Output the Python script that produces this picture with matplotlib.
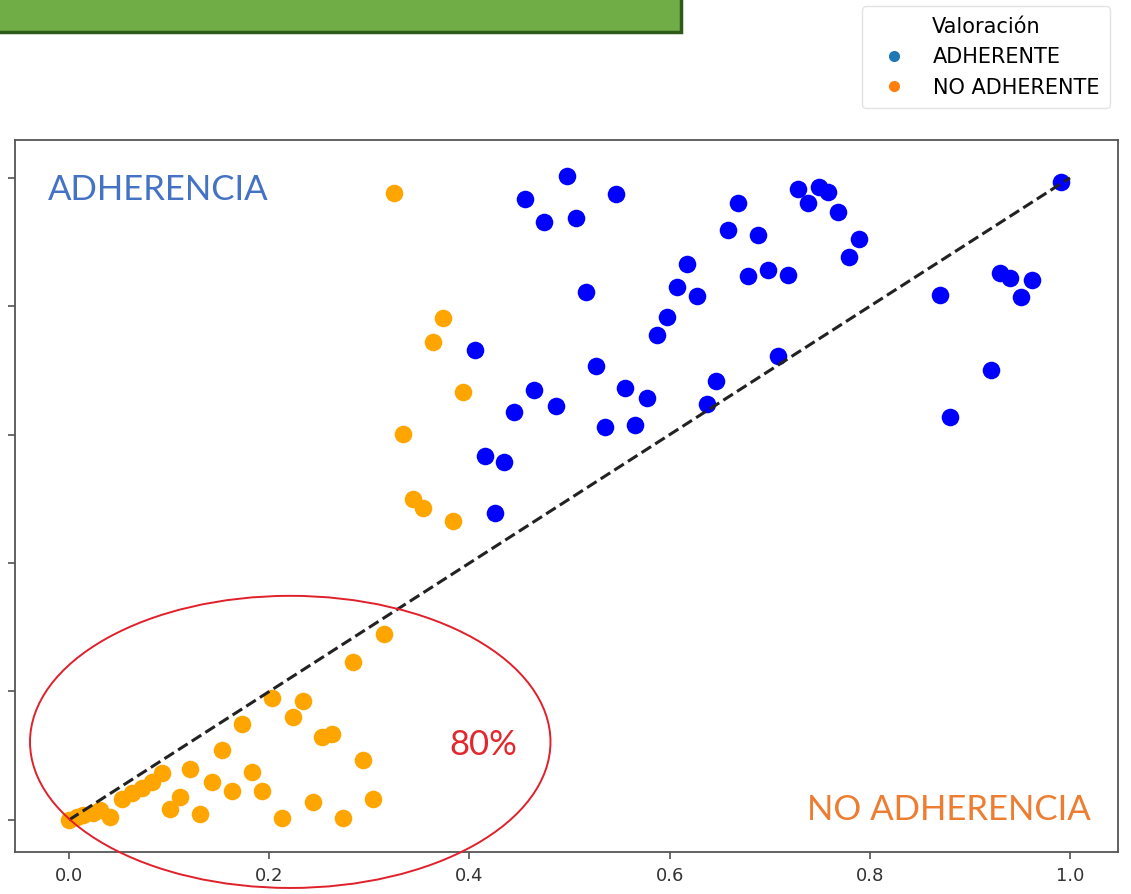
import matplotlib.pyplot as plt
from matplotlib.patches import Ellipse, Rectangle
from matplotlib.lines import Line2D

# Points
adh_x = [0.991, 0.456, 0.497, 0.546, 0.475, 0.506, 0.516, 0.617, 0.607, 0.627,
         0.597, 0.587, 0.406, 0.526, 0.465, 0.487, 0.445, 0.555, 0.577, 0.535,
         0.565, 0.646, 0.637, 0.416, 0.435, 0.426, 0.728, 0.738, 0.749, 0.758,
         0.768, 0.668, 0.658, 0.688, 0.789, 0.779, 0.678, 0.698, 0.718, 0.870,
         0.930, 0.940, 0.962, 0.951, 0.708, 0.921, 0.880]
adh_y = [0.994, 0.967, 1.003, 0.975, 0.931, 0.938, 0.822, 0.866, 0.830, 0.816,
         0.783, 0.755, 0.732, 0.707, 0.670, 0.645, 0.636, 0.673, 0.657, 0.612,
         0.615, 0.684, 0.648, 0.567, 0.558, 0.478, 0.983, 0.961, 0.986, 0.978,
         0.947, 0.961, 0.919, 0.911, 0.905, 0.877, 0.847, 0.857, 0.849, 0.818,
         0.852, 0.844, 0.841, 0.815, 0.723, 0.701, 0.628]

no_adh_x = [0.325, 0.374, 0.364, 0.394, 0.334, 0.344, 0.354, 0.384, 0.315, 0.284,
            0.203, 0.234, 0.224, 0.173, 0.253, 0.263, 0.153, 0.294, 0.121, 0.183,
            0.143, 0.163, 0.193, 0.111, 0.101, 0.131, 0.244, 0.304, 0.213, 0.274,
            0.041, 0.000, 0.008, 0.014, 0.024, 0.031, 0.053, 0.063, 0.073, 0.083,
            0.093]
no_adh_y = [0.977, 0.782, 0.745, 0.667, 0.601, 0.500, 0.486, 0.466, 0.290, 0.246,
            0.190, 0.185, 0.160, 0.150, 0.129, 0.134, 0.109, 0.093, 0.079, 0.075,
            0.059, 0.045, 0.045, 0.036, 0.017, 0.009, 0.028, 0.033, 0.003, 0.003,
            0.005, 0.000, 0.005, 0.008, 0.011, 0.016, 0.033, 0.042, 0.050, 0.059,
            0.073]

legend_labels = ['ADHERENTE', 'NO ADHERENTE']
ticks = [0.0, 0.2, 0.4, 0.6, 0.8, 1.0]

fig = plt.figure(figsize=(11.31, 8.94), dpi=100)
ax = fig.add_axes([15 / 1131, 1 - 852 / 894, 1103 / 1131, 712 / 894])

ax.scatter(adh_x, adh_y, s=160, color='blue', linewidths=0, zorder=3)
ax.scatter(no_adh_x, no_adh_y, s=160, color='orange', linewidths=0, zorder=3)
ax.plot([0, 1], [0, 1], color='#222222', linestyle='--', linewidth=2.2, zorder=4)

ax.set_xlim(-0.054, 1.048)
ax.set_ylim(-0.05, 1.059)
ax.set_xticks(ticks)
ax.set_xticklabels([f'{t:.1f}' for t in ticks], fontsize=13, color='#333333')
ax.set_yticks(ticks)
ax.set_yticklabels([])
ax.tick_params(length=5, width=1.1, color='#444444', pad=6)
for sp in ax.spines.values():
    sp.set_color('#555555')
    sp.set_linewidth(1.3)

# annotations added on top of the plot
ax.text(-0.021, 0.981, 'ADHERENCIA', fontsize=25, family='Lato',
        color='#4472C4', va='center', ha='left')
ax.text(0.879, 0.016, 'NO ADHERENCIA', fontsize=25, family='Lato',
        color='#ED7D31', va='center', ha='center')
ax.text(0.414, 0.117, '80%', fontsize=25, family='Lato',
        color='#E0282E', va='center', ha='center')
ax.add_patch(Ellipse((0.221, 0.1215), 0.52, 0.455, fill=False,
                     edgecolor='#E0202A', linewidth=1.4, clip_on=False, zorder=5))

# green banner at the top left (cut off in the screenshot)
fig.add_artist(Rectangle((-0.01, 1 - 32 / 894), 681 / 1131 + 0.01, 0.1,
                         facecolor='#70AD47', edgecolor='#2E5B1A', linewidth=2.5,
                         transform=fig.transFigure))

handles = [Line2D([], [], marker='o', linestyle='', markersize=7, color=c)
           for c in ['#1f77b4', '#ff7f0e']]
fig.legend(handles, legend_labels, title='Valoración', loc='lower right',
           bbox_to_anchor=(1110 / 1131, 1 - 108 / 894), bbox_transform=fig.transFigure,
           fontsize=15, title_fontsize=15, frameon=True, edgecolor='#dddddd',
           borderaxespad=0, handletextpad=0.9, labelspacing=0.5, borderpad=0.5)

plt.savefig('out.png', dpi=100)
